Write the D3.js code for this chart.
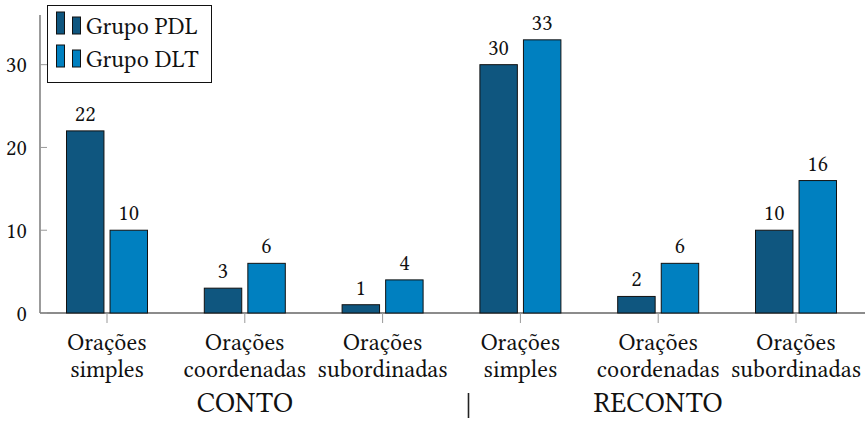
<!DOCTYPE html>
<html><head><meta charset="utf-8">
<script src="https://cdn.jsdelivr.net/npm/d3@7"></script>
<style>body{margin:0;background:#fff}svg{display:block}</style>
</head><body><svg id="c" width="865" height="421"></svg>
<script>
const categories = [["Orações","simples"],["Orações","coordenadas"],["Orações","subordinadas"],["Orações","simples"],["Orações","coordenadas"],["Orações","subordinadas"]];
const groups = ["CONTO","RECONTO"];
const seriesNames = ["Grupo PDL","Grupo DLT"];
const pdl = [22,3,1,30,2,10];
const dlt = [10,6,4,33,6,16];
const yTicks = [0,10,20,30];
const colors = ["#0f567f","#0080c0"];
const FONT = '"Libertinus Serif", "Liberation Serif", serif';

const svg = d3.select("#c");
const txt = (sel) => sel.style("font-family", FONT).attr("fill", "#111");
const y = d3.scaleLinear().domain([0,36]).range([313,15]);
const x = d3.scalePoint().domain(d3.range(categories.length)).range([107,796]);
const off = d3.scaleBand().domain([0,1]).range([-40.5,40.5]).paddingInner(0.14).paddingOuter(0);

// axes
svg.append("line").attr("x1",40).attr("x2",865).attr("y1",313).attr("y2",313).attr("stroke","#666").attr("stroke-width",1.3);
svg.append("line").attr("x1",40).attr("x2",40).attr("y1",15).attr("y2",313).attr("stroke","#666").attr("stroke-width",1.3);
yTicks.forEach(t=>{
  svg.append("line").attr("x1",40).attr("x2",47).attr("y1",y(t)).attr("y2",y(t)).attr("stroke","#999");
  svg.append("text").attr("x",27).attr("y",y(t)).attr("dy","0.34em").attr("text-anchor","end").attr("font-size",22.5).call(txt).text(t);
});
categories.forEach((c,i)=>{
  svg.append("line").attr("x1",x(i)).attr("x2",x(i)).attr("y1",313).attr("y2",323).attr("stroke","#999");
  svg.append("text").attr("x",x(i)).attr("y",350).attr("text-anchor","middle").attr("font-size",24).call(txt).text(c[0]);
  svg.append("text").attr("x",x(i)).attr("y",377).attr("text-anchor","middle").attr("font-size",24).call(txt).text(c[1]);
});
// group labels
svg.append("text").attr("x",(x(0)+x(2))/2).attr("y",412).attr("text-anchor","middle").attr("font-size",28.5).call(txt).text(groups[0]);
svg.append("text").attr("x",(x(3)+x(5))/2).attr("y",412).attr("text-anchor","middle").attr("font-size",28.5).call(txt).text(groups[1]);
svg.append("line").attr("x1",(x(2)+x(3))/2+17).attr("x2",(x(2)+x(3))/2+17).attr("y1",393).attr("y2",418).attr("stroke","#222").attr("stroke-width",1.6);

// bars
[pdl,dlt].forEach((vals,s)=>{
  vals.forEach((v,i)=>{
    const bx = x(i)+off(s);
    svg.append("rect").attr("x",bx).attr("y",y(v)).attr("width",off.bandwidth()).attr("height",y(0)-y(v))
      .attr("fill",colors[s]).attr("stroke","#111").attr("stroke-width",1);
    svg.append("text").attr("x",bx+off.bandwidth()/2).attr("y",y(v)-10).attr("text-anchor","middle").attr("font-size",22.5).call(txt).text(v);
  });
});

// legend
const lg = svg.append("g");
lg.append("rect").attr("x",47.5).attr("y",5.5).attr("width",164).attr("height",77).attr("fill","#fff").attr("stroke","#111");
seriesNames.forEach((n,s)=>{
  const top = 12 + s*33;
  lg.append("rect").attr("x",56.5).attr("y",top).attr("width",8).attr("height",22).attr("fill",colors[s]).attr("stroke","#111");
  lg.append("rect").attr("x",72.5).attr("y",top+5).attr("width",8).attr("height",17).attr("fill",colors[s]).attr("stroke","#111");
  lg.append("text").attr("x",86).attr("y",top+22).attr("font-size",24).call(txt).text(n);
});
</script></body></html>
